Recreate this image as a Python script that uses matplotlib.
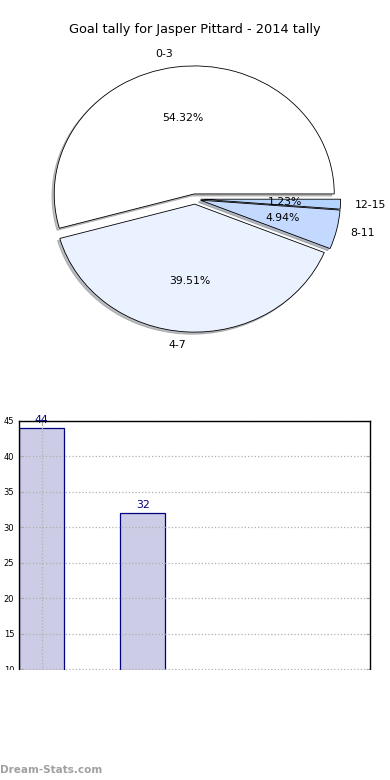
import matplotlib.pyplot as plt
from matplotlib.patches import Rectangle

labels = ["0-3", "4-7", "8-11", "12-15"]
counts = [44, 32, 4, 1]
colors = ["#FFFFFF", "#EBF2FF", "#C4D9FF", "#B5D3FF"]

W, H = 390, 780
fig = plt.figure(figsize=(3.9, 7.8), dpi=100)

def box(left, top, right, bottom):
    return [left / W, 1 - bottom / H, (right - left) / W, (bottom - top) / H]

fig.text(195 / W, 1 - 30 / H, "Goal tally for Jasper Pittard - 2014 tally",
         ha="center", va="center", fontsize=9.3)

# pie (not equal aspect, like the old chart)
ax = fig.add_axes(box(20, 39, 370, 359))
wedges, texts, autotexts = ax.pie(counts, labels=labels, colors=colors,
                                  explode=[0.04] * 4,
                                  shadow=dict(ox=-0.012, oy=-0.012, shade=0.5),
                                  autopct="%1.2f%%", startangle=0,
                                  wedgeprops=dict(edgecolor="black", linewidth=0.6),
                                  textprops=dict(fontsize=7.8))
ax.set_aspect("auto")
ax.set_xlim(-1.25, 1.25)
ax.set_ylim(-1.25, 1.25)
ax.axis("off")

# bar chart, bottom part cut off
bx = fig.add_axes(box(19, 421, 370, 740))
x = range(len(counts))
bars = bx.bar(x, counts, width=0.45, color="#CCCCE6", edgecolor="#000080",
              linewidth=0.9, zorder=1)
for xi, v in zip(x, counts):
    bx.text(xi, v + 0.4, str(v), ha="center", va="bottom", fontsize=7.8, color="#000080", zorder=4)
bx.set_xlim(-0.225, 3.25)
bx.set_ylim(0, 45)
bx.set_yticks(range(0, 50, 5))
bx.set_xticks([0])
bx.set_xticklabels([])
bx.tick_params(axis="both", direction="in", labelsize=6, length=3, color="#aaaaaa",
               right=True, top=True)
bx.grid(True, linestyle=":", color="#b0b0b0", linewidth=0.9)
for gl in bx.get_xgridlines() + bx.get_ygridlines():
    gl.set_zorder(2)
for s in bx.spines.values():
    s.set_linewidth(1)
    s.set_zorder(3)

fig.patches.append(Rectangle((0, 0), 1, 1 - 669.5 / H, transform=fig.transFigure,
                             facecolor="white", edgecolor="none", zorder=10))

fig.text(0, 1 - 770 / H, "Dream-Stats.com", fontsize=7.5, color="#a0a0a0",
         fontweight="bold", va="center", ha="left", zorder=11)

fig.savefig("out.png")
